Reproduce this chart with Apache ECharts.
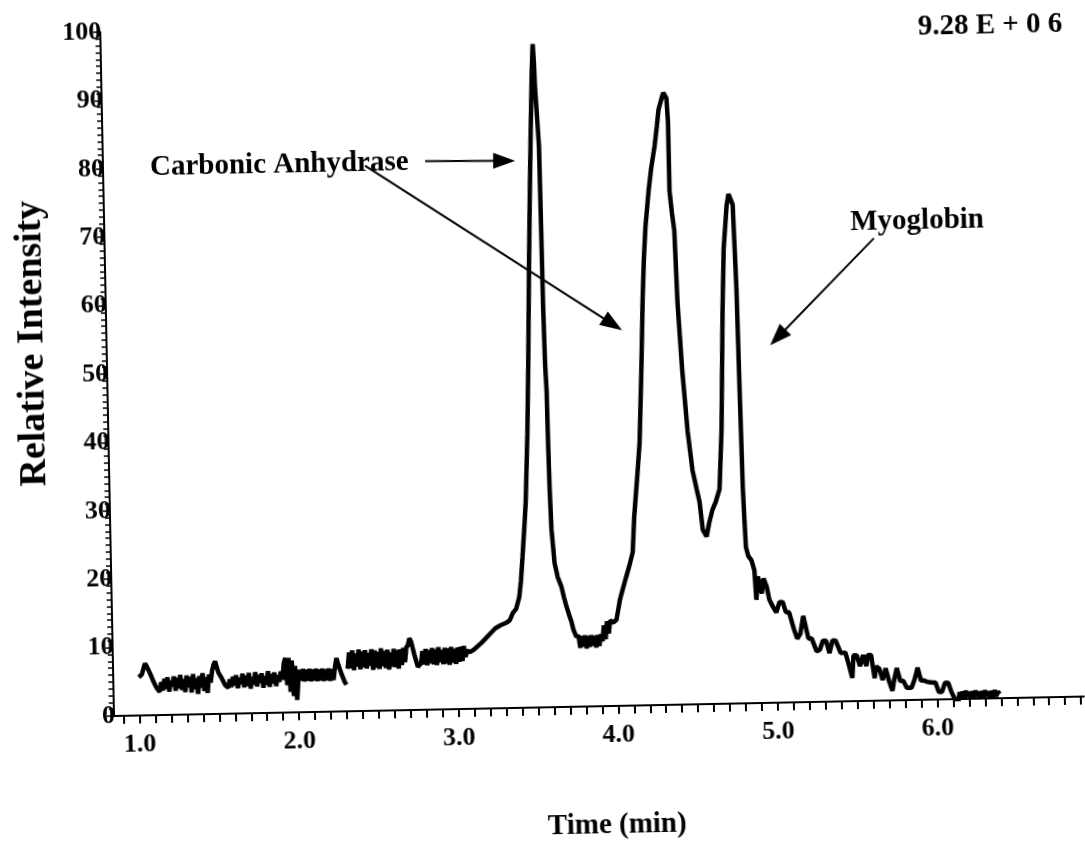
<!DOCTYPE html>
<html>
<head>
    <meta charset="utf-8" />
    <title>Chromatogram</title>
    <script src="https://cdn.jsdelivr.net/npm/echarts@6/dist/echarts.min.js"></script>
    <style>
        html, body { margin: 0; padding: 0; background: #fff; overflow: hidden; }
        /* the original is a slightly skewed scan, tilt the whole chart round the axis origin */
        #main { width: 1085px; height: 867px; transform: rotate(-1.15deg); transform-origin: 114px 716px; }
    </style>
</head>
<body>
<div id="main"></div>
<script type="text/javascript">
    // trace, [time (min), relative intensity]
    var baseline1 = [
        [1.00,5.6],[1.02,6.0],[1.04,7.6],[1.05,7.2],[1.07,6.2],[1.09,5.0],[1.11,4.0],[1.13,3.4],
        [1.14,4.8],[1.15,3.6],[1.16,5.3],[1.17,3.8],[1.18,5.5],[1.19,3.4],[1.20,5.0],[1.21,4.2],
        [1.22,5.6],[1.23,3.5],[1.24,5.4],[1.25,3.9],[1.26,5.8],[1.27,3.6],[1.28,5.2],[1.29,3.3],
        [1.30,5.7],[1.31,4.0],[1.32,5.5],[1.33,3.2],[1.34,5.9],[1.35,3.7],[1.36,5.3],[1.37,3.0],
        [1.38,5.6],[1.39,3.9],[1.40,6.0],[1.41,3.4],[1.42,5.4],[1.43,3.1],[1.44,5.8],[1.45,4.6],
        [1.46,6.3],[1.47,7.2],[1.48,7.7],[1.49,6.8],[1.50,6.0],[1.52,5.2],[1.54,4.2],[1.56,3.8],
        [1.57,5.0],[1.58,3.9],[1.59,5.4],[1.60,4.1],[1.61,5.6],[1.62,3.7],[1.63,5.2],[1.64,4.3],
        [1.65,5.8],[1.66,3.8],[1.67,5.5],[1.68,4.0],[1.69,5.9],[1.70,3.6],[1.71,5.3],[1.72,4.2],
        [1.73,6.0],[1.74,3.9],[1.75,5.6],[1.76,4.4],[1.77,5.8],[1.78,3.7],[1.79,5.4],[1.80,4.1],
        [1.81,6.1],[1.82,3.8],[1.83,5.7],[1.84,4.3],[1.85,5.9],[1.86,3.9],[1.87,5.5],[1.88,4.5],
        [1.89,6.0],[1.90,4.8],[1.91,7.2],[1.92,8.0],[1.93,4.0],[1.94,8.0],[1.95,3.0],[1.96,7.6],
        [1.97,2.4],[1.98,6.8],[1.99,1.8],[2.00,4.8],
        [2.01,6.2],[2.02,4.6],[2.03,6.3],[2.04,4.5],[2.05,6.2],[2.06,4.6],[2.07,6.3],[2.08,4.5],
        [2.09,6.2],[2.10,4.6],[2.11,6.3],[2.12,4.5],[2.13,6.2],[2.14,4.6],[2.15,6.3],[2.16,4.5],
        [2.17,6.2],[2.18,4.6],[2.19,6.3],[2.20,4.5],[2.21,6.2],[2.22,4.6],[2.23,6.4],[2.24,7.8],
        [2.25,7.0],[2.27,5.5],[2.29,4.3],[2.30,3.9]
    ];
    var baseline2 = [
        [2.31,6.2],[2.32,8.6],[2.33,6.3],[2.34,8.9],[2.35,6.0],[2.36,8.4],[2.37,6.5],[2.38,9.0],
        [2.39,6.1],[2.40,8.7],[2.41,6.4],[2.42,8.9],[2.43,6.2],[2.44,8.5],[2.45,6.6],[2.46,9.0],
        [2.47,6.0],[2.48,8.8],[2.49,6.3],[2.50,8.6],[2.51,6.1],[2.52,9.1],[2.53,6.5],[2.54,8.7],
        [2.55,6.2],[2.56,8.9],[2.57,6.0],[2.58,8.5],[2.59,6.4],[2.60,9.0],[2.61,6.3],[2.62,8.8],
        [2.63,6.1],[2.64,8.9],[2.65,6.6],[2.66,9.1],[2.67,7.0],[2.68,9.2],[2.69,9.5],[2.70,10.5],
        [2.71,10.0],[2.73,8.0],[2.75,6.3],[2.77,6.8],[2.78,8.6],[2.79,6.6],[2.80,8.9],[2.81,6.5],
        [2.82,8.7],[2.83,6.8],[2.84,9.0],[2.85,6.6],[2.86,8.8],[2.87,6.5],[2.88,9.1],[2.89,6.9],
        [2.90,8.7],[2.91,6.6],[2.92,9.0],[2.93,6.7],[2.94,8.9],[2.95,6.5],[2.96,9.1],[2.97,6.8],
        [2.98,8.8],[2.99,6.6],[3.00,9.0],[3.01,6.9],[3.02,9.1],[3.03,7.0],[3.04,9.2],[3.05,7.6],
        [3.06,8.5],[3.08,8.3],[3.10,8.6],[3.12,9.0],[3.15,9.6],[3.18,10.3],[3.21,11.0],[3.24,11.7],
        [3.27,12.1],[3.311,12.5],[3.331,12.8],[3.352,13.9],[3.373,14.5],[3.394,16.2],[3.406,18.5]
    ];
    var carbonicPeak = [
        [3.419,22.0],[3.433,26.0],[3.446,30.0],[3.465,40.0],[3.479,50.0],[3.497,65.0],[3.511,75.5],
        [3.525,85.0],[3.538,93.0],[3.547,97.0],[3.553,94.0],[3.556,90.8],[3.566,86.0],[3.574,82.0],
        [3.577,70.0],[3.580,58.0],[3.585,50.0],[3.591,46.3],[3.594,38.0],[3.598,31.6],[3.604,26.0],
        [3.619,21.1],[3.637,19.0],[3.659,17.6],[3.674,16.0],[3.688,14.7],[3.702,13.6],[3.718,12.4],
        [3.73,11.2],[3.747,10.2],
        [3.76,10.4],[3.77,8.6],[3.78,10.3],[3.79,8.8],[3.80,10.4],[3.81,8.5],[3.82,10.3],[3.83,8.7],
        [3.84,10.4],[3.85,8.9],[3.86,10.3],[3.87,8.6],[3.88,10.4],[3.89,8.8],[3.90,10.5],[3.91,9.5],
        [3.92,11.8],[3.93,9.8],[3.94,12.4],[3.95,10.6],[3.96,12.5],[3.98,12.2],[4.00,12.6]
    ];
    var secondPeaks = [
        [4.024,15.5],[4.045,17.2],[4.067,18.9],[4.088,20.5],[4.11,22.4],[4.124,27.6],[4.15,34.0],
        [4.167,38.4],[4.188,49.5],[4.204,59.3],[4.217,65.3],[4.231,70.0],[4.255,75.2],[4.274,78.5],
        [4.298,81.7],[4.314,84.5],[4.327,87.0],[4.348,88.7],[4.359,89.5],[4.369,89.5],[4.378,88.7],
        [4.385,85.2],[4.386,75.1],[4.398,72.0],[4.411,69.3],[4.422,58.8],[4.443,48.9],[4.469,40.0],
        [4.495,34.2],[4.518,31.5],[4.535,29.6],[4.552,25.5],[4.575,24.5],[4.593,26.5],[4.615,28.4],
        [4.636,29.5],[4.662,31.4],[4.682,40.1],[4.704,58.0],[4.718,66.5],[4.742,72.9],[4.755,74.5],
        [4.762,74.4],[4.78,72.9],[4.793,60.7],[4.80,46.1],[4.808,31.4],[4.814,26.8],[4.82,22.8],
        [4.834,21.5]
    ];
    var tail = [
        [4.853,20.9],[4.87,19.4],[4.875,17.0],[4.879,15.1],[4.891,18.5],[4.901,18.5],[4.914,16.0],
        [4.926,18.2],[4.945,17.0],[4.96,15.1],[4.982,14.0],[5.002,13.2],[5.023,14.7],[5.043,14.7],
        [5.062,13.2],[5.082,13.2],[5.109,10.8],[5.13,9.3],[5.15,10.0],[5.17,12.6],[5.18,12.6],
        [5.20,9.3],[5.22,9.3],[5.25,7.4],[5.27,7.6],[5.29,8.9],[5.31,8.9],[5.33,7.1],[5.35,8.9],
        [5.37,8.9],[5.40,7.1],[5.43,7.1],[5.45,5.3],[5.47,3.4],[5.48,6.7],[5.50,6.7],[5.52,5.1],
        [5.54,6.7],[5.56,5.1],[5.57,6.7],[5.59,6.7],[5.61,3.3],[5.62,5.0],[5.64,4.7],[5.66,3.0],
        [5.68,4.7],[5.70,2.8],[5.72,1.4],[5.73,2.8],[5.75,4.7],[5.77,2.8],[5.79,2.8],[5.81,1.8],
        [5.84,1.8],[5.86,3.0],[5.88,4.7],[5.90,2.8],[5.92,2.8],[5.94,2.6],[5.97,2.5],[5.99,2.5],
        [6.01,1.1],[6.03,1.1],[6.05,2.4],[6.07,2.4],[6.09,1.0],[6.11,0.0],[6.12,-2.5],[6.13,-2.5],
        [6.14,1.0],[6.15,0.2],[6.16,1.1],[6.17,0.2],[6.18,1.2],[6.19,0.3],[6.20,1.0],[6.21,0.2],
        [6.22,1.1],[6.23,0.2],[6.24,1.2],[6.25,0.3],[6.26,1.0],[6.27,0.2],[6.28,1.1],[6.29,0.2],
        [6.30,1.2],[6.31,0.3],[6.32,1.0],[6.33,0.2],[6.34,1.1],[6.35,0.2],[6.36,1.2],[6.37,0.3],
        [6.38,1.0],[6.39,0.6]
    ];

    var xLabels = [1, 2, 3, 4, 5, 6];
    var xTicks = [];
    for (var i = 9; i <= 69; i++) { xTicks.push(i / 10); }

    // arrows: [from, to] in (time, intensity); "to" is the centre of the head
    var arrows = [
        [[2.859, 80.2], [3.354, 80.0]],
        [[2.482, 79.7], [4.014, 55.8]],
        [[5.660, 67.6], [5.046, 53.4]]
    ];

    var trace = [].concat(baseline1, [[2.305, null]], baseline2, carbonicPeak, secondPeaks, tail);

    var serif = '"Liberation Serif", "Times New Roman", serif';

    var option = {
        animation: false,
        backgroundColor: '#fff',
        grid: { left: 114, right: 0, top: 32, bottom: 151 },
        xAxis: {
            type: 'value',
            min: 0.84,
            max: 6.924,
            splitLine: { show: false },
            axisLine: { lineStyle: { color: '#000', width: 2 } },
            axisTick: { customValues: xTicks, length: 8, lineStyle: { color: '#000', width: 2 } },
            axisLabel: {
                customValues: xLabels,
                margin: 16,
                color: '#000',
                fontFamily: serif,
                fontWeight: 'bold',
                fontSize: 26,
                formatter: function (v) { return v.toFixed(1); }
            }
        },
        yAxis: {
            type: 'value',
            min: 0,
            max: 100,
            interval: 10,
            splitLine: { show: false },
            axisLine: { show: true, lineStyle: { color: '#000', width: 2 } },
            axisTick: { length: 7, lineStyle: { color: '#000', width: 1.5 } },
            minorTick: { show: true, splitNumber: 10, length: 5, lineStyle: { color: '#000', width: 1.5 } },
            axisLabel: {
                margin: -1,
                color: '#000',
                fontFamily: serif,
                fontWeight: 'bold',
                fontSize: 26
            }
        },
        series: [{
            type: 'line',
            data: trace,
            showSymbol: false,
            connectNulls: false,
            lineStyle: { color: '#000', width: 4.5 },
            markLine: {
                silent: true,
                symbol: ['none', 'triangle'],
                symbolSize: [16, 22],
                label: { show: false },
                lineStyle: { color: '#000', width: 2, type: 'solid' },
                data: arrows.map(function (a) {
                    return [{ coord: a[0] }, { coord: a[1] }];
                })
            }
        }],
        graphic: [
            { type: 'text', x: 161, y: 169,
              style: { text: 'Carbonic Anhydrase', font: 'bold 29px ' + serif, fill: '#000', align: 'left', verticalAlign: 'middle' } },
            { type: 'text', x: 860, y: 238,
              style: { text: 'Myoglobin', font: 'bold 29px ' + serif, fill: '#000', align: 'left', verticalAlign: 'middle' } },
            { type: 'text', x: 1076, y: 44,
              style: { text: '9.28 E + 0 6', font: 'bold 29px ' + serif, fill: '#000', align: 'right', verticalAlign: 'middle' } },
            { type: 'text', x: 615, y: 836,
              style: { text: 'Time (min)', font: 'bold 29px ' + serif, fill: '#000', align: 'center', verticalAlign: 'middle' } },
            { type: 'text', x: 40, y: 342, rotation: Math.PI / 2,
              style: { text: 'Relative Intensity', font: 'bold 38px ' + serif, fill: '#000', align: 'center', verticalAlign: 'middle' } }
        ]
    };

    var myChart = echarts.init(document.getElementById('main'));
    myChart.setOption(option);
</script>
</body>
</html>
